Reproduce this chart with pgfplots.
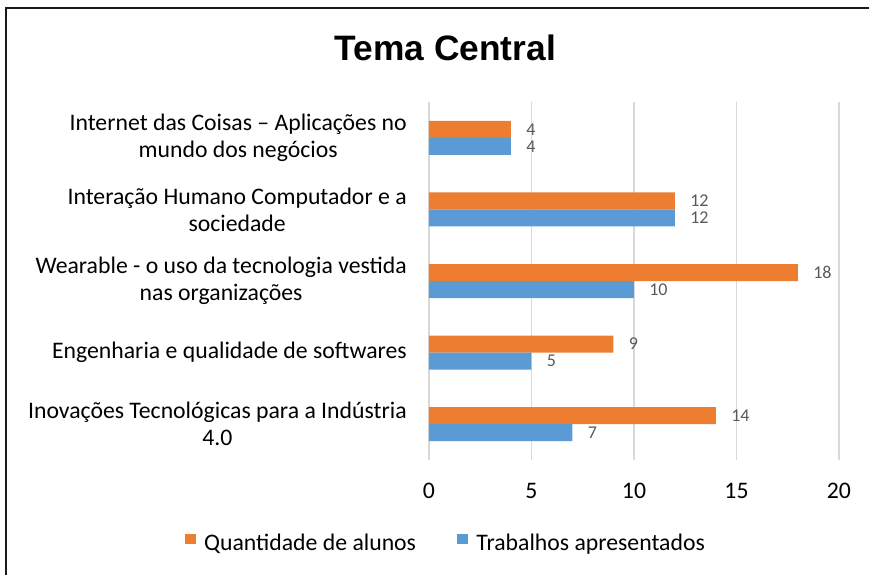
\documentclass[border=0pt]{standalone}
\usepackage{pgfplots}
\pgfplotsset{compat=1.18}
\usepackage{fontspec}
\setmainfont{Carlito}
\newfontfamily\arialf{Liberation Sans}

\definecolor{cOrange}{HTML}{ED7D31}
\definecolor{cBlue}{HTML}{5B9BD5}
\definecolor{cGrid}{HTML}{D9D9D9}
\definecolor{cLab}{HTML}{595959}

\begin{document}
\begin{tikzpicture}
\useasboundingbox (0,0) rectangle (651.75pt,-431.25pt);
\draw[line width=1.3pt, black!90] (4.5pt,-431.25pt) -- (4.5pt,-6pt) -- (651.75pt,-6pt);
\node[font=\arialf\bfseries\fontsize{26.5}{30}\selectfont, anchor=base, inner sep=0pt] at (334pt,-45pt) {Tema Central};

\begin{axis}[
  at={(321.75pt,-345pt)}, anchor=south west,
  width=307.5pt, height=268.5pt, scale only axis,
  xbar, clip=false,
  xmin=0, xmax=20, ymin=0.5, ymax=5.5,
  xtick={0,5,10,15,20}, ytick={1,2,3,4,5},
  yticklabels={Inovações Tecnológicas para a Indústria\\4.0,
               Engenharia e qualidade de softwares,
               Wearable - o uso da tecnologia vestida\\nas organizações,
               Interação Humano Computador e a\\sociedade,
               Internet das Coisas – Aplicações no\\mundo dos negócios},
  axis line style={draw=none}, major tick length=0pt,
  xmajorgrids, grid style={cGrid, line width=1.2pt},
  /pgf/number format/assume math mode=true,
  xticklabel style={anchor=north, inner sep=0pt, yshift=-17.25pt, font=\fontsize{17.8}{20}\selectfont},
  yticklabel style={anchor=east, inner sep=0pt, xshift=-16.5pt, align=center, font=\fontsize{17.8}{20.25}\selectfont},
  bar width=12.75pt,
  point meta=x,
  nodes near coords,
  every node near coord/.append style={anchor=west, inner sep=0pt, xshift=11.25pt, text=cLab, font=\fontsize{13.5}{15}\selectfont},
  legend columns=2,
  legend cell align=left,
  legend image code/.code={\fill[#1] (0pt,-1pt) rectangle (8.25pt,6.5pt);},
  legend style={at={(0.0488,-0.2318)}, anchor=center, draw=none, fill=none,
    font=\fontsize{17.8}{20}\selectfont,
    nodes={inner xsep=6pt, inner ysep=0pt},
    /tikz/every even column/.append style={column sep=25pt}},
]
\addplot[fill=cOrange, draw=none, bar shift=6.375pt] coordinates {(14,1) (9,2) (18,3) (12,4) (4,5)};
\addplot[fill=cBlue, draw=none, bar shift=-6.375pt] coordinates {(7,1) (5,2) (10,3) (12,4) (4,5)};
\legend{Quantidade de alunos, Trabalhos apresentados}
\end{axis}
\end{tikzpicture}
\end{document}
